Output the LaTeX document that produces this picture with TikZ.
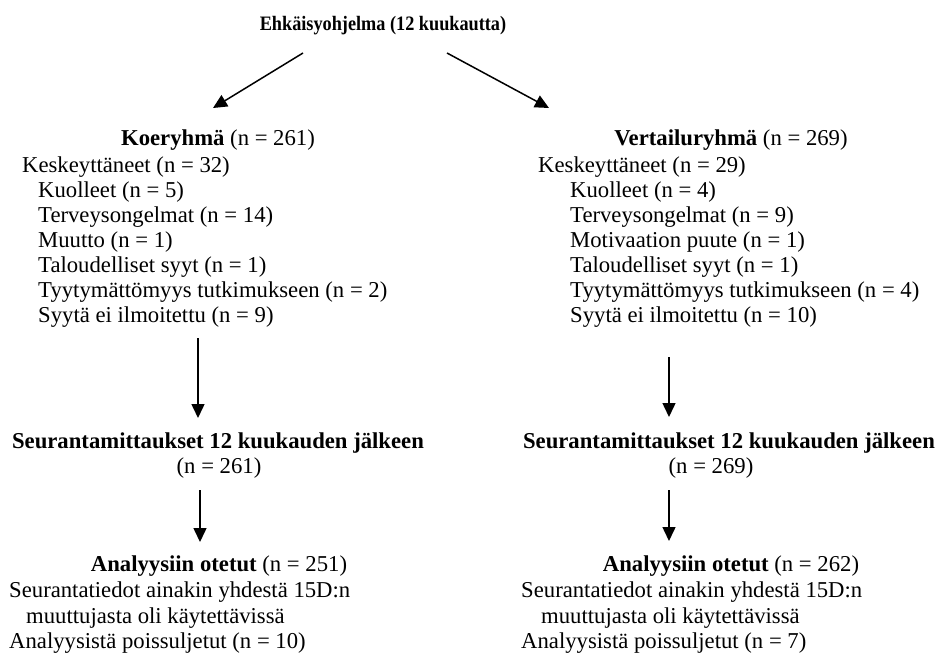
\documentclass[tikz,border=0pt]{standalone}
\usepackage{fontspec}
\setmainfont{Liberation Serif}
\usetikzlibrary{arrows.meta, positioning, calc}

\tikzset{
  lbl/.style={anchor=base west, inner sep=0pt, font=\fontsize{22.7}{26}\selectfont},
  head/.style={anchor=base, inner sep=0pt, font=\fontsize{22.7}{26}\selectfont},
  flow/.style={-{Triangle[length=14pt, width=13pt]}, line width=1.5pt},
}

\begin{document}
\begin{tikzpicture}[x=1pt, y=-1pt]
  \useasboundingbox (0,0) rectangle (938,654);
  % 参数定义
  \def\lx{218}
  \def\rx{731}
  \def\rowgap{25}

  % ===== 标题 =====
  \node[head, font=\fontsize{20.5}{24}\selectfont] (title) at (383,30)
    {\scalebox{0.89}[1]{\textbf{Ehkäisyohjelma (12 kuukautta)}}};

  % ===== 左列：Koeryhmä =====
  \node[head] (koe) at (\lx,145) {\textbf{Koeryhmä} (n = 261)};
  \node[lbl] (kesk1) at (22,172) {Keskeyttäneet (n = 32)};
  \foreach \i/\txt in {0/{Kuolleet (n = 5)}, 1/{Terveysongelmat (n = 14)},
      2/{Muutto (n = 1)}, 3/{Taloudelliset syyt (n = 1)},
      4/{Tyytymättömyys tutkimukseen (n = 2)}, 5/{Syytä ei ilmoitettu (n = 9)}} {
    \node[lbl] (syy1-\i) at (38,197+\rowgap*\i) {\txt};
  }
  \node[head] (seur1) at (\lx,448) {\textbf{Seurantamittaukset 12 kuukauden jälkeen}};
  \node[head] (seurn1) at (219,473) {(n = 261)};
  \node[head] (anal1) at (219,571) {\textbf{Analyysiin otetut} (n = 251)};
  \node[lbl] (tied1) at (9,597) {Seurantatiedot ainakin yhdestä 15D:n};
  \node[lbl] (muut1) at (26,623) {muuttujasta oli käytettävissä};
  \node[lbl] (pois1) at (9,648) {Analyysistä poissuljetut (n = 10)};

  % ===== 右列：Vertailuryhmä =====
  \node[head] (vert) at (\rx,145) {\textbf{Vertailuryhmä} (n = 269)};
  \node[lbl] (kesk2) at (538,172) {Keskeyttäneet (n = 29)};
  \foreach \i/\txt in {0/{Kuolleet (n = 4)}, 1/{Terveysongelmat (n = 9)},
      2/{Motivaation puute (n = 1)}, 3/{Taloudelliset syyt (n = 1)},
      4/{Tyytymättömyys tutkimukseen (n = 4)}, 5/{Syytä ei ilmoitettu (n = 10)}} {
    \node[lbl] (syy2-\i) at (570,197+\rowgap*\i) {\txt};
  }
  \node[head] (seur2) at (729,448) {\textbf{Seurantamittaukset 12 kuukauden jälkeen}};
  \node[head] (seurn2) at (711,473) {(n = 269)};
  \node[head] (anal2) at (\rx,571) {\textbf{Analyysiin otetut} (n = 262)};
  \node[lbl] (tied2) at (521,597) {Seurantatiedot ainakin yhdestä 15D:n};
  \node[lbl] (muut2) at (541,623) {muuttujasta oli käytettävissä};
  \node[lbl] (pois2) at (521,648) {Analyysistä poissuljetut (n = 7)};

  % ===== 箭头 =====
  \coordinate (t1) at (303,53);
  \coordinate (h1) at (213,108);
  \coordinate (t2) at (447,53);
  \coordinate (h2) at (549,108);
  \draw[flow] (t1) -- (h1);
  \draw[flow] (t2) -- (h2);

  \coordinate (d1a) at (198,338);
  \coordinate (d1b) at (198,418);
  \coordinate (d2a) at (669,357);
  \coordinate (d2b) at (669,417);
  \draw[flow] (d1a) -- (d1b);
  \draw[flow] (d2a) -- (d2b);

  \coordinate (e1a) at (200,490);
  \coordinate (e1b) at (200,542);
  \coordinate (e2a) at (669,490);
  \coordinate (e2b) at (669,541);
  \draw[flow] (e1a) -- (e1b);
  \draw[flow] (e2a) -- (e2b);
\end{tikzpicture}
\end{document}
